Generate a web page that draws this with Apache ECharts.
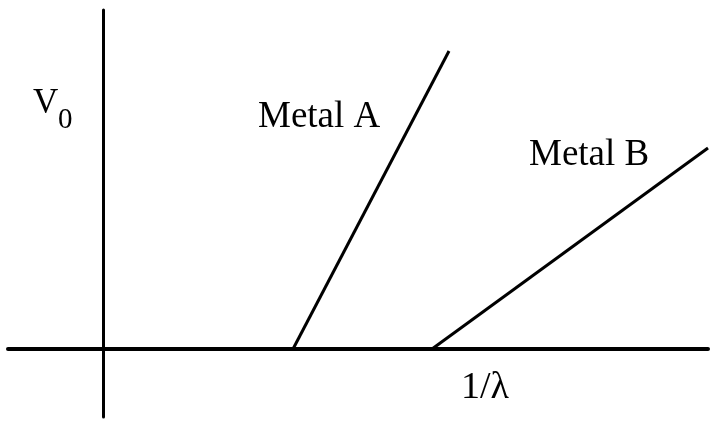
<!DOCTYPE html>
<html>
<head>
<meta charset="utf-8">
<script src="https://cdn.jsdelivr.net/npm/echarts@6/dist/echarts.min.js"></script>
<style>
  html, body { margin: 0; padding: 0; background: #fff; }
  #chart { width: 712px; height: 427px; }
</style>
</head>
<body>
<div id="chart"></div>
<script>
// stopping voltage vs 1/lambda, arbitrary units (1 unit ~ 100px)
const metalA = [[1.90, 0], [3.46, 2.98]];
const metalB = [[3.29, 0], [6.05, 2.01]];
const seriesNames = ['Metal A', 'Metal B'];
const xName = '1/λ';
const yName = 'V';
const ySub = '0';

const serif = '"Liberation Serif", "DejaVu Serif", serif';
const chart = echarts.init(document.getElementById('chart'));

const lineStyle = { color: '#000', width: 3 };

chart.setOption({
  animation: false,
  backgroundColor: '#fff',
  grid: { left: 8, right: 4, top: 10, bottom: 10 },
  xAxis: {
    type: 'value',
    min: -0.95,
    max: 6.05,
    axisLine: { onZero: true, lineStyle: { color: '#000', width: 4 } },
    axisTick: { show: false },
    axisLabel: { show: false },
    splitLine: { show: false }
  },
  yAxis: {
    type: 'value',
    min: -0.68,
    max: 3.39,
    axisLine: { onZero: true, lineStyle: { color: '#000', width: 3 } },
    axisTick: { show: false },
    axisLabel: { show: false },
    splitLine: { show: false }
  },
  series: [
    {
      name: seriesNames[0],
      type: 'line',
      data: metalA,
      symbol: 'none',
      lineStyle: lineStyle
    },
    {
      name: seriesNames[1],
      type: 'line',
      data: metalB,
      symbol: 'none',
      lineStyle: lineStyle
    }
  ],
  graphic: [
    {
      type: 'text',
      left: 33,
      top: 86,
      style: { text: yName, fontFamily: serif, fontSize: 35, fill: '#000' }
    },
    {
      type: 'text',
      left: 58,
      top: 106,
      style: { text: ySub, fontFamily: serif, fontSize: 29, fill: '#000' }
    },
    {
      type: 'text',
      left: 258,
      top: 99,
      style: { text: seriesNames[0], fontFamily: serif, fontSize: 37, fill: '#000' }
    },
    {
      type: 'text',
      left: 529,
      top: 137,
      style: { text: seriesNames[1], fontFamily: serif, fontSize: 37, fill: '#000' }
    },
    {
      type: 'text',
      left: 461,
      top: 369,
      style: { text: xName, fontFamily: serif, fontSize: 38, fill: '#000' }
    }
  ]
});
</script>
</body>
</html>
